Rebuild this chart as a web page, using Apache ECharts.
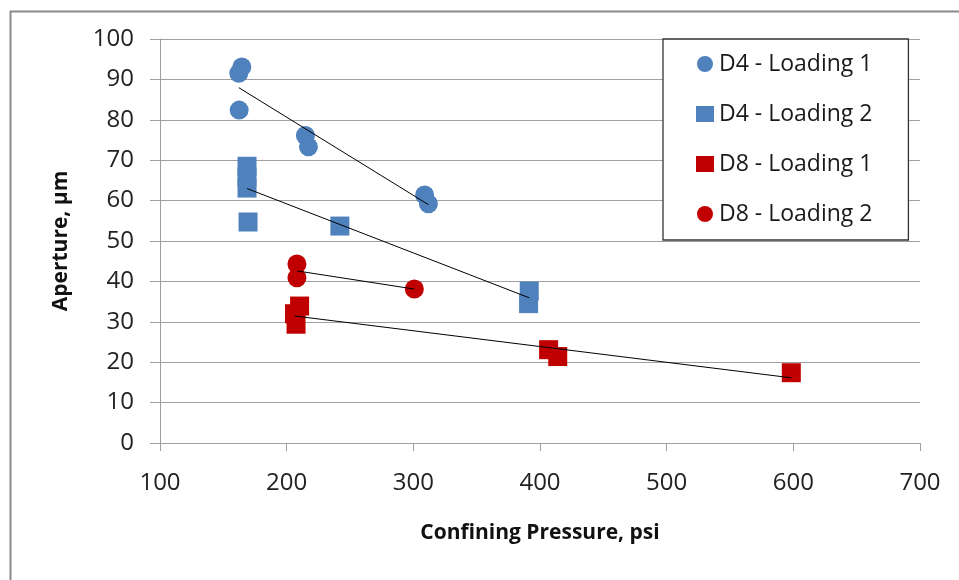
<!DOCTYPE html>
<html>
<head>
<meta charset="utf-8">
<script src="https://cdn.jsdelivr.net/npm/echarts@6/dist/echarts.min.js"></script>
<style>
  html, body { margin: 0; padding: 0; background: #fff; }
  #main { width: 959px; height: 580px; }
</style>
</head>
<body>
<div id="main"></div>
<script>
// data: [psi, aperture um]
var d4Loading1 = [[164.6, 93.1], [162.2, 91.5], [162.5, 82.4], [214.8, 76.1], [217.2, 73.3], [308.9, 61.4], [311.9, 59.2]];
var d4Loading2 = [[168.7, 68.5], [168.7, 65.8], [168.7, 63.1], [169.5, 54.7], [242, 53.7], [391.5, 37.6], [391, 34.5]];
var d8Loading1 = [[210.2, 33.9], [206.2, 32.0], [207.4, 29.4], [406.8, 23.1], [414, 21.4], [598.4, 17.4]];
var d8Loading2 = [[208.1, 44.3], [208.1, 40.9], [300.8, 38.1]];

var seriesNames = ['D4 - Loading 1', 'D4 - Loading 2', 'D8 - Loading 1', 'D8 - Loading 2'];
var xTicks = { min: 100, max: 700, step: 100 };
var yTicks = { min: 0, max: 100, step: 10 };

var BLUE = '#4f81bd';
var RED = '#c00000';
var FONT = '"Open Sans", "Noto Sans", sans-serif';

// least squares line drawn across the x range of the points (Excel linear trendline)
function trend(pts) {
  var n = pts.length, sx = 0, sy = 0, sxx = 0, sxy = 0;
  pts.forEach(function (p) { sx += p[0]; sy += p[1]; sxx += p[0] * p[0]; sxy += p[0] * p[1]; });
  var b = (n * sxy - sx * sy) / (n * sxx - sx * sx);
  var a = (sy - b * sx) / n;
  var xs = pts.map(function (p) { return p[0]; });
  var x0 = Math.min.apply(null, xs), x1 = Math.max.apply(null, xs);
  return [[x0, a + b * x0], [x1, a + b * x1]];
}

function scatter(name, data, color, symbol) {
  return {
    name: name, type: 'scatter', data: data, symbol: symbol, symbolSize: 19,
    itemStyle: { color: color, opacity: 1 }, z: 2
  };
}

function trendLine(data) {
  return {
    type: 'line', data: trend(data), symbol: 'none', silent: true, z: 3,
    lineStyle: { color: '#000', width: 1 }
  };
}

var chart = echarts.init(document.getElementById('main'));
chart.setOption({
  animation: false,
  backgroundColor: '#fff',
  textStyle: { fontFamily: FONT },
  graphic: [{
    type: 'rect', left: 8, top: 9, z: -10,
    shape: { width: 1000, height: 1000 },
    style: { fill: 'none', stroke: '#8a8a8a', lineWidth: 2 }
  }],
  grid: { left: 160, right: 39, top: 39, bottom: 137 },
  legend: {
    orient: 'vertical', left: 663, top: 39,
    padding: [13, 36, 14, 33],
    itemGap: 26, itemWidth: 18, itemHeight: 16,
    backgroundColor: '#fff', borderColor: '#333', borderWidth: 1.3, borderRadius: 0,
    textStyle: { fontFamily: FONT, fontSize: 23, color: '#1a1a1a', lineHeight: 24 },
    data: [
      { name: seriesNames[0], icon: 'circle' },
      { name: seriesNames[1], icon: 'rect' },
      { name: seriesNames[2], icon: 'rect' },
      { name: seriesNames[3], icon: 'circle' }
    ]
  },
  xAxis: {
    type: 'value', min: xTicks.min, max: xTicks.max, interval: xTicks.step,
    name: 'Confining Pressure, psi', nameLocation: 'middle', nameGap: 80,
    nameTextStyle: { fontFamily: FONT, fontSize: 21, fontWeight: 'bold', color: '#111' },
    axisLine: { show: true, onZero: false, lineStyle: { color: '#a0a0a0', width: 1 } },
    axisTick: { show: true, length: 8, lineStyle: { color: '#a0a0a0' } },
    axisLabel: { fontFamily: FONT, fontSize: 24, color: '#222', margin: 28 },
    splitLine: { show: false }
  },
  yAxis: {
    type: 'value', min: yTicks.min, max: yTicks.max, interval: yTicks.step,
    name: 'Aperture, µm', nameLocation: 'middle', nameGap: 88, nameRotate: 90,
    nameTextStyle: { fontFamily: FONT, fontSize: 21, fontWeight: 'bold', color: '#111' },
    axisLine: { show: true, lineStyle: { color: '#a0a0a0', width: 1 } },
    axisTick: { show: true, length: 10, lineStyle: { color: '#a0a0a0' } },
    axisLabel: { fontFamily: FONT, fontSize: 24, color: '#222', margin: 26 },
    splitLine: { show: true, lineStyle: { color: '#a0a0a0', width: 1 } }
  },
  series: [
    scatter(seriesNames[0], d4Loading1, BLUE, 'circle'),
    scatter(seriesNames[1], d4Loading2, BLUE, 'rect'),
    scatter(seriesNames[2], d8Loading1, RED, 'rect'),
    scatter(seriesNames[3], d8Loading2, RED, 'circle'),
    trendLine(d4Loading1),
    trendLine(d4Loading2),
    trendLine(d8Loading1),
    trendLine(d8Loading2)
  ]
});
</script>
</body>
</html>
